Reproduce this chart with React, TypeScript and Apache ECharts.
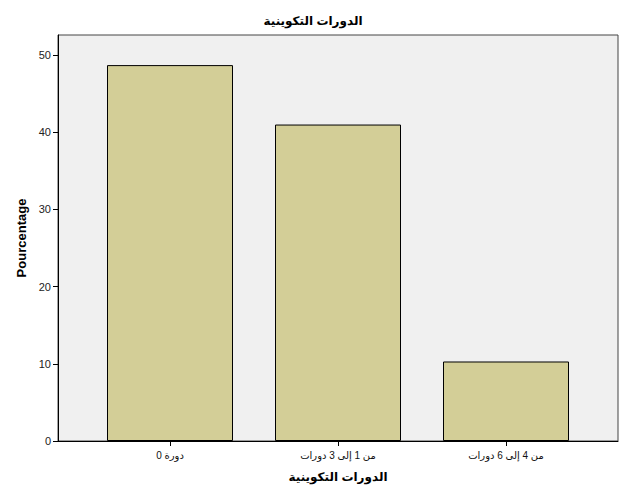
import React, { useRef, useEffect } from "react";
import * as echarts from "echarts";

const categories = ["0 دورة", "من 1 إلى 3 دورات", "من 4 إلى 6 دورات"];
const percentages = [48.7, 41.0, 10.3];
const yTicks = [0, 10, 20, 30, 40, 50];

const FONT = "'Liberation Sans', Arial, 'DejaVu Sans', sans-serif";

const App = function () {
  const chart = useRef<HTMLDivElement>(null);
  useEffect(() => {
    if (!chart.current) return;
    const myChart = echarts.init(chart.current, undefined, { renderer: "svg" });
    const option = {
      animation: false,
      backgroundColor: "#ffffff",
      textStyle: { fontFamily: FONT },
      title: {
        text: "الدورات التكوينية",
        left: "center",
        top: 10,
        textStyle: { fontSize: 12, fontWeight: "bold", color: "#000", fontFamily: FONT },
      },
      grid: [
        {
          left: 58,
          top: 35,
          width: 560,
          height: 406,
          show: true,
          backgroundColor: "#f0f0f0",
          borderColor: "#444",
          borderWidth: 1,
        },
        { left: 86, top: 35, width: 504, height: 406 },
      ],
      xAxis: [
        {
          gridIndex: 0,
          type: "value",
          min: 0,
          max: 1,
          axisLine: { show: true, lineStyle: { color: "#000", width: 1 } },
          axisTick: { show: false },
          axisLabel: { show: false },
          splitLine: { show: false },
        },
        {
          gridIndex: 1,
          type: "category",
          data: categories,
          axisLine: { show: false },
          axisTick: {
            show: true,
            alignWithLabel: true,
            length: 5,
            lineStyle: { color: "#000" },
          },
          axisLabel: { fontSize: 10, color: "#111", margin: 9, fontFamily: FONT },
          name: "الدورات التكوينية",
          nameLocation: "middle",
          nameGap: 30,
          nameTextStyle: { fontSize: 12, fontWeight: "bold", color: "#000", fontFamily: FONT },
        },
      ],
      yAxis: [
        {
          gridIndex: 0,
          type: "value",
          min: 0,
          max: 52.6,
          axisLine: { show: true, lineStyle: { color: "#000", width: 1 } },
          axisTick: {
            show: true,
            length: 5,
            customValues: yTicks,
            lineStyle: { color: "#000" },
          },
          axisLabel: {
            customValues: yTicks,
            fontSize: 11,
            color: "#222",
            margin: 7,
            fontFamily: FONT,
          },
          splitLine: { show: false },
          name: "Pourcentage",
          nameLocation: "middle",
          nameGap: 30,
          nameTextStyle: { fontSize: 13, fontWeight: "bold", color: "#000", fontFamily: FONT },
        },
        {
          gridIndex: 1,
          type: "value",
          min: 0,
          max: 52.6,
          show: false,
        },
      ],
      series: [
        {
          name: "Pourcentage",
          type: "bar",
          xAxisIndex: 1,
          yAxisIndex: 1,
          data: percentages,
          barWidth: 126,
          itemStyle: {
            color: "#d3ce97",
            borderColor: "#000",
            borderWidth: 1,
          },
        },
      ],
    };
    myChart.setOption(option);
    return () => {
      myChart.dispose();
    };
  }, []);
  return (
    <div
      ref={chart}
      style={{ position: "fixed", left: 0, top: 0, width: 626, height: 501 }}
    ></div>
  );
};
export default App;
